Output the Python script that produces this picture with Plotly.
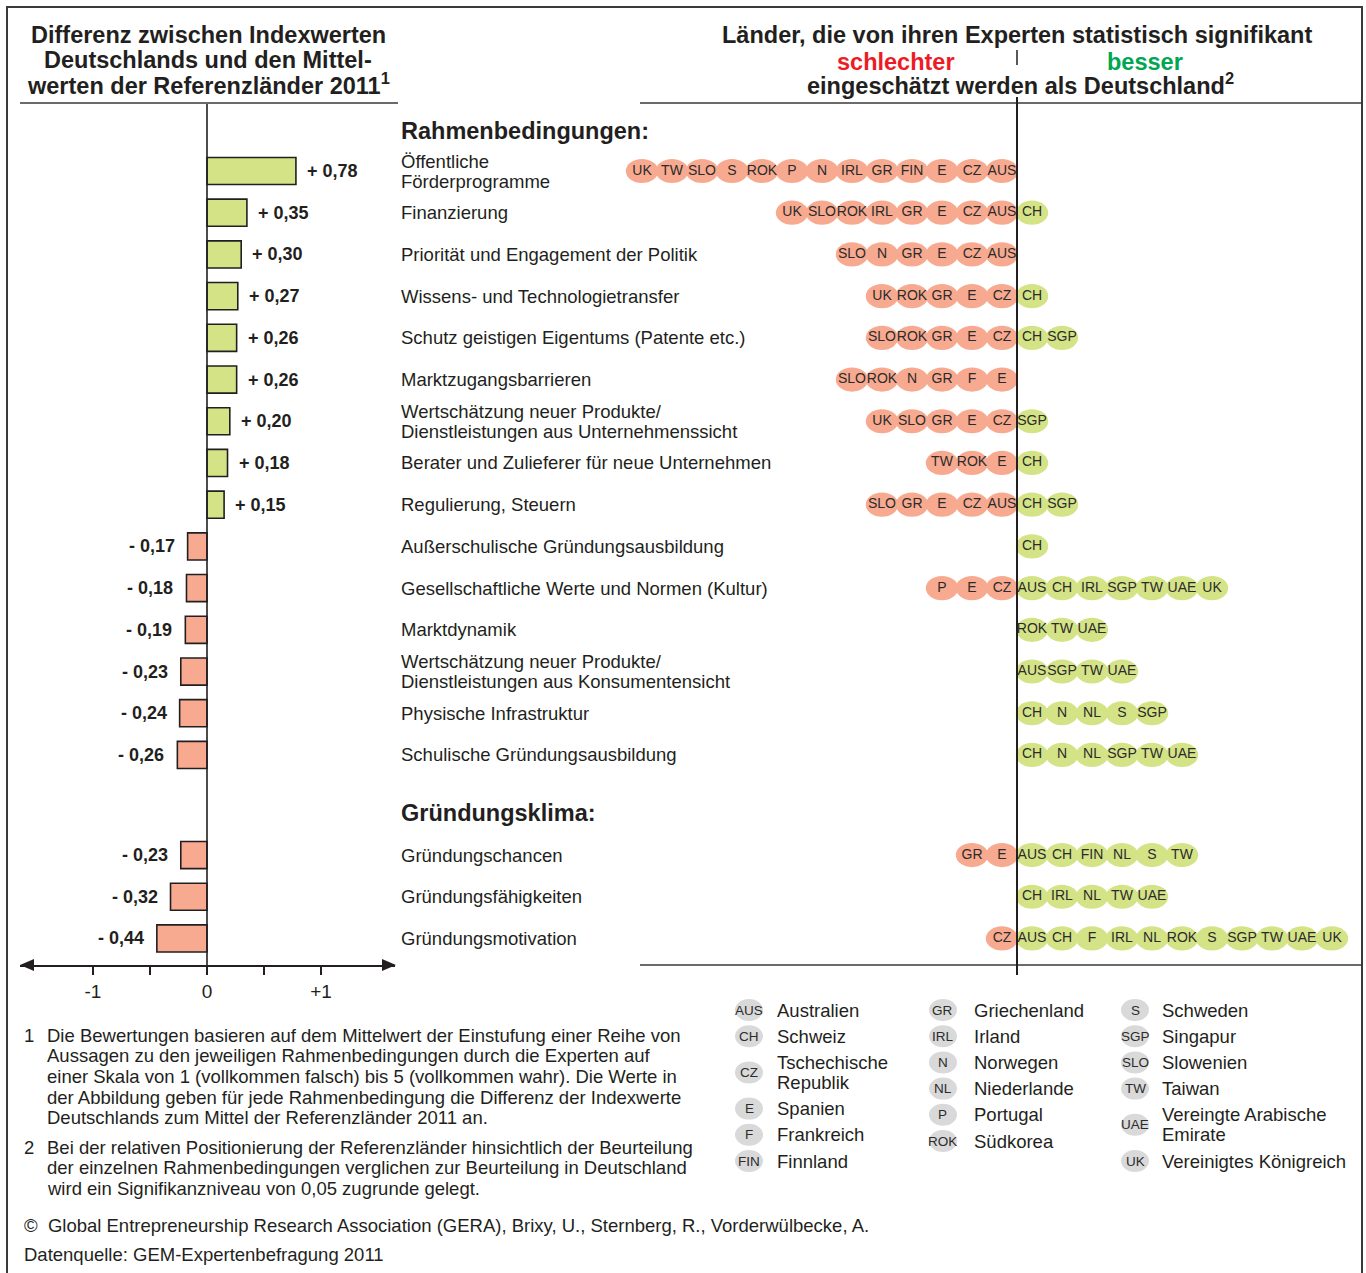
import plotly.graph_objects as go

W, H = 1366, 1273

FONT = "Liberation Sans, Arial, Helvetica, sans-serif"
INK = "#231f20"
GREEN = "#d5e387"
RED = "#f8aa90"

# data
labels = [
    "Öffentliche\nFörderprogramme",
    "Finanzierung",
    "Priorität und Engagement der Politik",
    "Wissens- und Technologietransfer",
    "Schutz geistigen Eigentums (Patente etc.)",
    "Marktzugangsbarrieren",
    "Wertschätzung neuer Produkte/\nDienstleistungen aus Unternehmenssicht",
    "Berater und Zulieferer für neue Unternehmen",
    "Regulierung, Steuern",
    "Außerschulische Gründungsausbildung",
    "Gesellschaftliche Werte und Normen (Kultur)",
    "Marktdynamik",
    "Wertschätzung neuer Produkte/\nDienstleistungen aus Konsumentensicht",
    "Physische Infrastruktur",
    "Schulische Gründungsausbildung",
    "Gründungschancen",
    "Gründungsfähigkeiten",
    "Gründungsmotivation",
]

values = [0.78, 0.35, 0.30, 0.27, 0.26, 0.26, 0.20, 0.18, 0.15,
          -0.17, -0.18, -0.19, -0.23, -0.24, -0.26,
          -0.23, -0.32, -0.44]

# countries rated worse than Germany (left to right)
worse = [
    ["UK", "TW", "SLO", "S", "ROK", "P", "N", "IRL", "GR", "FIN", "E", "CZ", "AUS"],
    ["UK", "SLO", "ROK", "IRL", "GR", "E", "CZ", "AUS"],
    ["SLO", "N", "GR", "E", "CZ", "AUS"],
    ["UK", "ROK", "GR", "E", "CZ"],
    ["SLO", "ROK", "GR", "E", "CZ"],
    ["SLO", "ROK", "N", "GR", "F", "E"],
    ["UK", "SLO", "GR", "E", "CZ"],
    ["TW", "ROK", "E"],
    ["SLO", "GR", "E", "CZ", "AUS"],
    [],
    ["P", "E", "CZ"],
    [],
    [],
    [],
    [],
    ["GR", "E"],
    [],
    ["CZ"],
]

# countries rated better than Germany (left to right)
better = [
    [],
    ["CH"],
    [],
    ["CH"],
    ["CH", "SGP"],
    [],
    ["SGP"],
    ["CH"],
    ["CH", "SGP"],
    ["CH"],
    ["AUS", "CH", "IRL", "SGP", "TW", "UAE", "UK"],
    ["ROK", "TW", "UAE"],
    ["AUS", "SGP", "TW", "UAE"],
    ["CH", "N", "NL", "S", "SGP"],
    ["CH", "N", "NL", "SGP", "TW", "UAE"],
    ["AUS", "CH", "FIN", "NL", "S", "TW"],
    ["CH", "IRL", "NL", "TW", "UAE"],
    ["AUS", "CH", "F", "IRL", "NL", "ROK", "S", "SGP", "TW", "UAE", "UK"],
]

legend_codes = ["AUS", "CH", "CZ", "E", "F", "FIN",
                "GR", "IRL", "N", "NL", "P", "ROK",
                "S", "SGP", "SLO", "TW", "UAE", "UK"]
legend_names = ["Australien", "Schweiz", "Tschechische\nRepublik", "Spanien", "Frankreich", "Finnland",
                "Griechenland", "Irland", "Norwegen", "Niederlande", "Portugal", "Südkorea",
                "Schweden", "Singapur", "Slowenien", "Taiwan", "Vereingte Arabische\nEmirate",
                "Vereinigtes Königreich"]

note1 = ["Die Bewertungen basieren auf dem Mittelwert der Einstufung einer Reihe von",
         "Aussagen zu den jeweiligen Rahmenbedingungen durch die Experten auf",
         "einer Skala von 1 (vollkommen falsch) bis 5 (vollkommen wahr). Die Werte in",
         "der Abbildung geben für jede Rahmenbedingung die Differenz der Indexwerte",
         "Deutschlands zum Mittel der Referenzländer 2011 an."]
note2 = ["Bei der relativen Positionierung der Referenzländer hinsichtlich der Beurteilung",
         "der einzelnen Rahmenbedingungen verglichen zur Beurteilung in Deutschland",
         "wird ein Signifikanzniveau von 0,05 zugrunde gelegt."]


def px(x):
    return x / W


def py(y):
    return 1 - y / H


def text(t, x, y, size=18.5, anchor='left', color=INK, xref='paper', yref='paper', **kw):
    # annotations carry a little padding, pull left-aligned text back by it
    if anchor == 'left':
        kw['xshift'] = kw.get('xshift', 0) - 2
    return dict(text=t, xref=xref, yref=yref, x=x, y=y, xanchor=anchor, yanchor='middle',
                showarrow=False, font=dict(family=FONT, size=size, color=color), **kw)


# row positions: 15 rows, a gap, then 3 rows
rows = list(range(15)) + [16.4 + i for i in range(3)]

fig = go.Figure()

fig.add_trace(go.Bar(
    x=values, y=rows, orientation='h', width=0.65,
    marker=dict(color=[GREEN if v > 0 else RED for v in values],
                line=dict(color=INK, width=1.6)),
    xaxis='x', yaxis='y', hoverinfo='skip', showlegend=False))

shapes = []
annotations = []

# bubbles
bx, by, bt = [], [], []
for r, w_list, b_list in zip(rows, worse, better):
    n = len(w_list)
    for i, c in enumerate(w_list):
        bx.append(-(n - i - 0.5)); by.append(r); bt.append(c)
    for i, c in enumerate(b_list):
        bx.append(i + 0.5); by.append(r); bt.append(c)
for x, y in zip(bx, by):
    shapes.append(dict(type='circle', xref='x2', yref='y', x0=x - 0.54, x1=x + 0.54,
                       y0=y - 0.29, y1=y + 0.29, fillcolor=RED if x < 0 else GREEN,
                       line=dict(width=0), layer='below'))

fig.add_trace(go.Scatter(
    x=bx, y=by, text=bt, mode='text', xaxis='x2', yaxis='y',
    textfont=dict(family=FONT, size=14, color="#2b2b2b"),
    hoverinfo='skip', showlegend=False))

# category labels
for r, lab in zip(rows, labels):
    parts = lab.split("\n")
    shifts = [0] if len(parts) == 1 else [10, -10]
    for t, s in zip(parts, shifts):
        annotations.append(text(t, px(401), r, yref='y', yshift=s))

# value labels
for r, v in zip(rows, values):
    txt = ("+ " if v > 0 else "- ") + f"{abs(v):.2f}".replace(".", ",")
    annotations.append(text(f"<b>{txt}</b>", v, r, size=18, xref='x', yref='y',
                            anchor='left' if v > 0 else 'right',
                            xshift=11 if v > 0 else -11))

# section headers
for t, y in [("Rahmenbedingungen:", 131), ("Gründungsklima:", 813)]:
    annotations.append(text(f"<b>{t}</b>", px(401), py(y), size=23.5))

# titles
for t, y in [("Differenz zwischen Indexwerten", 35), ("Deutschlands und den Mittel-", 60),
             ("werten der Referenzländer 2011<sup>1</sup>", 84)]:
    annotations.append(text(f"<b>{t}</b>", px(208), py(y), size=23.5, anchor='center'))
annotations += [
    text("<b>Länder, die von ihren Experten statistisch signifikant</b>", px(1017), py(35),
         size=23.5, anchor='center'),
    text("<b>schlechter</b>", px(896), py(62), size=23.5, anchor='center', color="#ed1c24"),
    text("<b>besser</b>", px(1145), py(62), size=23.5, anchor='center', color="#00a651"),
    text("<b>eingeschätzt werden als Deutschland<sup>2</sup></b>", px(1020), py(84),
         size=23.5, anchor='center'),
]


# footnotes
def note(num, lines, y0):
    annotations.append(text(num, px(24), py(y0)))
    for i, t in enumerate(lines):
        annotations.append(text(t, px(47), py(y0 + 20.7 * i)))


note("1", note1, 1035)
note("2", note2, 1147)
annotations.append(text("©  Global Entrepreneurship Research Association (GERA), Brixy, U., "
                        "Sternberg, R., Vorderwülbecke, A.", px(24), py(1225)))
annotations.append(text("Datenquelle: GEM-Expertenbefragung 2011", px(24), py(1254)))

# country legend
col_circle = [749, 943, 1135]
col_text = [777, 974, 1162]
for c in range(3):
    y = 1010
    for k in range(6):
        code = legend_codes[c * 6 + k]
        name = legend_names[c * 6 + k].split("\n")
        if len(name) > 1 and k > 0:
            y += 10
        shapes.append(dict(type='circle', xref='paper', yref='paper',
                           x0=px(col_circle[c] - 14), x1=px(col_circle[c] + 14),
                           y0=py(y - 11), y1=py(y + 11), fillcolor="#d9d9d9",
                           line=dict(width=0), layer='below'))
        annotations.append(text(code, px(col_circle[c]), py(y), size=13.5, anchor='center',
                                color="#2b2b2b"))
        shifts = [0] if len(name) == 1 else [-10, 10]
        for t, s in zip(name, shifts):
            annotations.append(text(t, px(col_text[c]), py(y + s)))
        y += 26.2 + (10 if len(name) > 1 else 0)

# frame and divider lines
line_c = "#3a3a3a"
shapes += [
    dict(type='rect', xref='paper', yref='paper', x0=px(7), x1=px(1362), y0=py(1290), y1=py(7),
         line=dict(color=line_c, width=2)),
    dict(type='line', xref='paper', yref='paper', x0=px(20), x1=px(398), y0=py(103), y1=py(103),
         line=dict(color=line_c, width=1.5)),
    dict(type='line', xref='paper', yref='paper', x0=px(640), x1=px(1362), y0=py(103), y1=py(103),
         line=dict(color=line_c, width=1.5)),
    dict(type='line', xref='paper', yref='paper', x0=px(640), x1=px(1362), y0=py(965), y1=py(965),
         line=dict(color=line_c, width=1.5)),
    dict(type='line', xref='paper', yref='paper', x0=px(1017), x1=px(1017), y0=py(50), y1=py(65),
         line=dict(color=INK, width=1.5)),
    dict(type='line', xref='x2', yref='paper', x0=0, x1=0, y0=py(97), y1=py(975),
         line=dict(color=INK, width=2)),
    dict(type='line', xref='x', yref='paper', x0=0, x1=0, y0=py(104), y1=py(965),
         line=dict(color=INK, width=1.6)),
    # axis arrowheads
    dict(type='path', xref='paper', yref='paper',
         path=f"M {px(20)},{py(965)} L {px(34)},{py(959)} L {px(34)},{py(971)} Z",
         fillcolor=INK, line=dict(width=0)),
    dict(type='path', xref='paper', yref='paper',
         path=f"M {px(396)},{py(965)} L {px(382)},{py(959)} L {px(382)},{py(971)} Z",
         fillcolor=INK, line=dict(width=0)),
]

fig.update_layout(
    width=W, height=H,
    margin=dict(l=0, r=0, t=0, b=0),
    paper_bgcolor='white', plot_bgcolor='rgba(0,0,0,0)',
    showlegend=False,
    xaxis=dict(domain=[px(20), px(395)], range=[(20 - 207) / 114, (395 - 207) / 114],
               anchor='y', showgrid=False, zeroline=False, showline=True,
               linecolor=INK, linewidth=2, ticks='outside', ticklen=8, tickwidth=1.5,
               tickcolor=INK, tickvals=[-1, 0, 1], ticktext=["-1", "0", "+1"],
               minor=dict(tickvals=[-0.5, 0.5], ticks='outside', ticklen=8, tickwidth=1.5,
                          tickcolor=INK, showgrid=False),
               tickfont=dict(family=FONT, size=19, color=INK), fixedrange=True),
    xaxis2=dict(domain=[px(600), px(1362)], range=[(600 - 1017) / 30, (1362 - 1017) / 30],
                anchor='y', visible=False, fixedrange=True),
    yaxis=dict(domain=[py(965), py(104)], range=[(965 - 171) / 41.71, (104 - 171) / 41.71],
               visible=False, fixedrange=True),
    shapes=shapes,
    annotations=annotations,
)

fig.write_html("out.html", config={'displayModeBar': False},
               post_script="document.body.style.margin='0';")
